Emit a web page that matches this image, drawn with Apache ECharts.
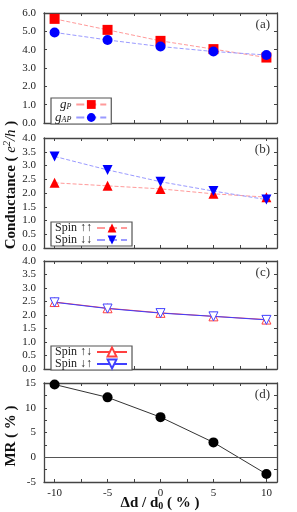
<!DOCTYPE html>
<html><head><meta charset="utf-8">
<script src="https://cdn.jsdelivr.net/npm/echarts@6/dist/echarts.min.js"></script>
<style>html,body{margin:0;padding:0;background:#fff}#c{width:297px;height:512px}</style>
</head><body><div id="c"></div>
<script>
const strain = [-10, -5, 0, 5, 10];
const gP = [5.68, 5.08, 4.48, 4.03, 3.57];
const gAP = [4.94, 4.53, 4.17, 3.90, 3.71];
const spinUpUp = [2.37, 2.26, 2.15, 1.97, 1.85];
const spinDnDn = [3.33, 2.84, 2.41, 2.07, 1.76];
const spinUpDn = [2.48, 2.25, 2.08, 1.95, 1.83];
const spinDnUp = [2.47, 2.24, 2.07, 1.95, 1.82];
const mr = [14.7, 12.1, 8.1, 3.0, -3.4];
const xTicks = [-10, -7.5, -5, -2.5, 0, 2.5, 5, 7.5, 10];
const xLabels = [-10, -5, 0, 5, 10];
const panelLabels = ['(a)', '(b)', '(c)', '(d)'];

const FONT = 'Liberation Serif';
const AX = '#444';
const pair = (ys) => strain.map((x, i) => [x, ys[i]]);

const grids = [
  {left: 44, right: 20, top: 13, height: 110},
  {left: 44, right: 20, top: 138, height: 110},
  {left: 44, right: 20, top: 261, height: 108},
  {left: 44, right: 20, top: 383, height: 99}
];
const yCfg = [
  {min: 0, max: 6, interval: 1, fmt: v => v.toFixed(1), minor: false},
  {min: 0, max: 4, interval: 0.5, fmt: v => v.toFixed(1), minor: false},
  {min: 0, max: 4, interval: 0.5, fmt: v => v.toFixed(1), minor: false},
  {min: -5, max: 15, interval: 5, fmt: v => String(v), minor: true}
];

const xAxes = [], yAxes = [];
grids.forEach((g, i) => {
  ['bottom', 'top'].forEach(pos => {
    xAxes.push({
      type: 'value', gridIndex: i, min: -11, max: 11, position: pos,
      axisLine: {onZero: false, lineStyle: {color: AX, width: 1.3}},
      axisTick: {inside: true, length: 3, customValues: xTicks, lineStyle: {color: AX}},
      axisLabel: {show: i === 3 && pos === 'bottom', customValues: xLabels, fontFamily: FONT, fontSize: 11, color: '#222', margin: 6},
      splitLine: {show: false}
    });
  });
  const c = yCfg[i];
  ['left', 'right'].forEach(pos => {
    yAxes.push({
      type: 'value', gridIndex: i, min: c.min, max: c.max, interval: c.interval, position: pos,
      axisLine: {show: true, onZero: false, lineStyle: {color: AX, width: 1.3}},
      axisTick: {show: true, inside: true, length: 3, lineStyle: {color: AX}},
      minorTick: {show: c.minor, splitNumber: 2, length: 3, lineStyle: {color: AX}},
      axisLabel: {show: pos === 'left', formatter: c.fmt, fontFamily: FONT, fontSize: 11, color: '#222', margin: 8},
      splitLine: {show: false}
    });
  });
});

function ser(name, data, gi, color, lineColor, symbol, opts) {
  return Object.assign({
    name, type: 'line', data: pair(data), xAxisIndex: gi * 2, yAxisIndex: gi * 2,
    symbol, symbolSize: 9, color: color,
    itemStyle: {color: color},
    lineStyle: {color: lineColor, width: 1, type: 'dashed'},
    z: 3
  }, opts || {});
}

const series = [
  ser('gP', gP, 0, '#ff0000', '#ff9a9a', 'rect', {symbolSize: 10}),
  ser('gAP', gAP, 0, '#0000ff', '#9a9aff', 'circle', {symbolSize: 10}),
  ser('up_up', spinUpUp, 1, '#ff0000', '#ff9a9a', 'triangle', {symbolSize: 10}),
  ser('dn_dn', spinDnDn, 1, '#0000ff', '#9a9aff', 'triangle', {symbolSize: 10, symbolRotate: 180}),
  ser('up_dn', spinUpDn, 2, '#ff4040', '#ff4040', 'triangle', {symbolSize: 9,
    itemStyle: {color: '#fff', borderColor: '#ff4040', borderWidth: 1},
    lineStyle: {color: '#ff4040', width: 1, type: 'solid'}}),
  ser('dn_up', spinDnUp, 2, '#4040ff', '#4040ff', 'triangle', {symbolSize: 9, symbolRotate: 180,
    itemStyle: {color: '#fff', borderColor: '#4040ff', borderWidth: 1},
    lineStyle: {color: '#4040ff', width: 1, type: 'solid'}}),
  ser('MR', mr, 3, '#000', '#333', 'circle', {symbolSize: 10,
    lineStyle: {color: '#333', width: 1, type: 'solid'},
    markLine: {silent: true, symbol: 'none', label: {show: false},
      lineStyle: {color: '#555', width: 1, type: 'solid'}, data: [{yAxis: 0}]}})
];

const legRich = {
  i: {fontFamily: FONT, fontStyle: 'italic', fontSize: 13, color: '#222'},
  s: {fontFamily: FONT, fontStyle: 'italic', fontSize: 8, color: '#222', padding: [5, 0, 0, 0]},
  t: {fontFamily: FONT, fontSize: 12, color: '#222'}
};
const legNames = {
  gP: '{i|g}{s|P}', gAP: '{i|g}{s|AP}',
  up_up: '{t|Spin ↑↑}', dn_dn: '{t|Spin ↓↓}',
  up_dn: '{t|Spin ↑↓}', dn_up: '{t|Spin ↓↑}'
};
function leg(names, top, width) {
  return {
    data: names, orient: 'vertical', left: 51, top: top, align: 'right',
    itemWidth: 30, itemHeight: 11, itemGap: 0, padding: [0, 4, 0, 4],
    borderColor: '#555', borderWidth: 1.2, backgroundColor: '#fff',
    formatter: n => legNames[n],
    textStyle: {rich: legRich, width: width}, selectedMode: false
  };
}

const option = {
  animation: false,
  backgroundColor: '#fff',
  grid: grids,
  xAxis: xAxes,
  yAxis: yAxes,
  series: series,
  legend: [
    leg(['gP', 'gAP'], 98, 22),
    leg(['up_up', 'dn_dn'], 222, 44),
    leg(['up_dn', 'dn_up'], 346, 44)
  ],
  title: grids.map((g, i) => ({
    text: panelLabels[i], right: 27, top: g.top + 5,
    textStyle: {fontFamily: FONT, fontSize: 13, fontWeight: 'normal', color: '#333'},
    padding: 0
  })),
  graphic: [
    {type: 'text', x: 11, y: 185, rotation: Math.PI / 2,
      style: {text: '{b|Conductance ( }{i|e}{sup|2}{i|/h}{b| )}', align: 'center', verticalAlign: 'middle',
        rich: {
          b: {fontFamily: FONT, fontWeight: 'bold', fontSize: 15, fill: '#111'},
          i: {fontFamily: FONT, fontStyle: 'italic', fontSize: 15, fill: '#111'},
          sup: {fontFamily: FONT, fontStyle: 'italic', fontSize: 10, fill: '#111', padding: [0, 0, 7, 0]}
        }}},
    {type: 'text', x: 11, y: 436, rotation: Math.PI / 2,
      style: {text: 'MR ( % )', align: 'center', verticalAlign: 'middle',
        fontFamily: FONT, fontWeight: 'bold', fontSize: 15, fill: '#111'}},
    {type: 'text', x: 160, y: 503,
      style: {text: '{b|Δd / d}{s|0}{b| ( % )}', align: 'center', verticalAlign: 'middle',
        rich: {
          b: {fontFamily: FONT, fontWeight: 'bold', fontSize: 15, fill: '#111'},
          s: {fontFamily: FONT, fontWeight: 'bold', fontSize: 10, fill: '#111', padding: [6, 0, 0, 0]}
        }}}
  ]
};
const chart = echarts.init(document.getElementById('c'), null, {renderer: 'canvas'});
chart.setOption(option);
</script></body></html>
